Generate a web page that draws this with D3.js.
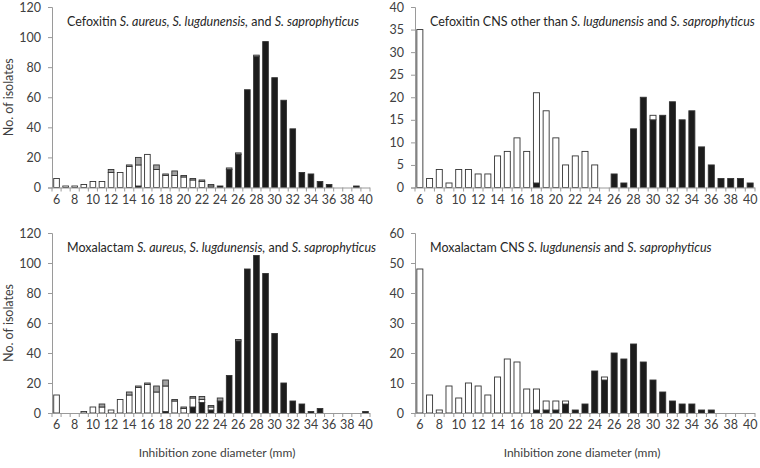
<!DOCTYPE html>
<html><head><meta charset="utf-8">
<script src="https://cdn.jsdelivr.net/npm/d3@7/dist/d3.min.js"></script>
<style>body{margin:0;background:#fff}svg{display:block}</style>
</head><body>
<svg id="chart" width="760" height="468"></svg>
<script>
const categories = [6,7,8,9,10,11,12,13,14,15,16,17,18,19,20,21,22,23,24,25,26,27,28,29,30,31,32,33,34,35,36,37,38,39,40];
const xTickLabels = [6,8,10,12,14,16,18,20,22,24,26,28,30,32,34,36,38,40];

// Panel 1: Cefoxitin S. aureus, S. lugdunensis, S. saprophyticus
const p1Black = [0,0,0,0,0,0,0,0,0,1,0,0,0,0,0,0,0,0,1,12,22,65,87,97,73,58,39,10,9,4,2,0,0,1,0];
const p1White = [6,1,1,2,4,4,10,10,14,14,22,12,8,8,7,5,4,1,0,0,0,0,0,0,0,0,0,0,0,0,0,0,0,0,0];
const p1Grey  = [0,0,0,0,0,0,2,0,1,5,0,3,1,3,1,1,1,1,0,1,1,0,1,0,0,0,0,0,0,0,0,0,0,0,0];
// Panel 2: Cefoxitin CNS other than S. lugdunensis and S. saprophyticus
const p2Black = [0,0,0,0,0,0,0,0,0,0,0,0,1,0,0,0,0,0,0,0,3,1,13,20,15,16,19,15,17,9,5,2,2,2,1];
const p2White = [35,2,4,1,4,4,3,3,7,8,11,8,20,17,11,5,7,8,5,0,0,0,0,0,1,0,0,0,0,0,0,0,0,0,0];
const p2Grey  = [0,0,0,0,0,0,0,0,0,0,0,0,0,0,0,0,0,0,0,0,0,0,0,0,0,0,0,0,0,0,0,0,0,0,0];
// Panel 3: Moxalactam S. aureus, S. lugdunensis, S. saprophyticus
const p3Black = [0,0,0,0,0,0,0,0,0,0,0,0,1,0,0,4,7,2,8,25,48,96,105,93,53,20,8,6,1,3,0,0,0,0,1];
const p3White = [12,0,0,1,4,4,2,9,12,17,19,14,17,8,3,6,2,2,0,0,0,0,0,0,0,0,0,0,0,0,0,0,0,0,0];
const p3Grey  = [0,0,0,0,0,2,0,0,2,1,1,4,4,1,1,1,2,1,2,0,1,0,0,0,0,0,0,0,0,0,0,0,0,0,0];
// Panel 4: Moxalactam CNS S. lugdunensis and S. saprophyticus
const p4Black = [0,0,0,0,0,0,0,0,0,0,0,0,1,1,1,3,1,3,14,11,20,18,23,17,11,7,4,3,3,1,1,0,0,0,0];
const p4White = [48,6,1,9,5,10,9,6,12,18,17,8,7,3,3,1,0,0,0,1,0,0,0,0,0,0,0,0,0,0,0,0,0,0,0];
const p4Grey  = [0,0,0,0,0,0,0,0,0,0,0,0,0,0,0,0,0,0,0,0,0,0,0,0,0,0,0,0,0,0,0,0,0,0,0];

const yTicks1 = [0,20,40,60,80,100,120];
const yTicks2 = [0,5,10,15,20,25,30,35,40];
const yTicks4 = [0,10,20,30,40,50,60];

const titles = [
  [["Cefoxitin ",false],["S. aureus, S. lugdunensis,",true],[" and ",false],["S. saprophyticus",true]],
  [["Cefoxitin CNS other than ",false],["S. lugdunensis",true],[" and ",false],["S. saprophyticus",true]],
  [["Moxalactam ",false],["S. aureus, S. lugdunensis,",true],[" and ",false],["S. saprophyticus",true]],
  [["Moxalactam CNS ",false],["S. lugdunensis",true],[" and ",false],["S. saprophyticus",true]]
];

const keys = ["black","white","grey"];
const colors = {black:"#1c1c1c", white:"#ffffff", grey:"#a3a3a3"};
const FONT = "Lato, 'Open Sans', sans-serif";
const TXT = "#404040";

const panels = [
  {b:p1Black,w:p1White,g:p1Grey,x0:52,x1:370,yb:187.5,yt:7,max:120,ticks:yTicks1,title:titles[0],ytitle:true},
  {b:p2Black,w:p2White,g:p2Grey,x0:415,x1:755,yb:187.5,yt:7,max:40,ticks:yTicks2,title:titles[1],ytitle:false},
  {b:p3Black,w:p3White,g:p3Grey,x0:52,x1:370,yb:413,yt:233,max:120,ticks:yTicks1,title:titles[2],ytitle:true},
  {b:p4Black,w:p4White,g:p4Grey,x0:415,x1:755,yb:413,yt:233,max:60,ticks:yTicks4,title:titles[3],ytitle:false}
];

const svg = d3.select("#chart");

panels.forEach(p => {
  const rows = categories.map((c,i) => ({cat:c, black:p.b[i], white:p.w[i], grey:p.g[i]}));
  const series = d3.stack().keys(keys)(rows);
  const x = d3.scaleBand().domain(categories).range([p.x0,p.x1]).paddingInner(0.38).paddingOuter(0.19);
  const xb = d3.scaleBand().domain(categories).range([p.x0,p.x1]);
  const y = d3.scaleLinear().domain([0,p.max]).range([p.yb,p.yt]);
  const g = svg.append("g");

  // bars
  series.forEach(s => {
    g.append("g").selectAll("rect").data(s.filter(d => d[1] > d[0])).join("rect")
      .attr("x", d => x(d.data.cat))
      .attr("width", x.bandwidth())
      .attr("y", d => y(d[1]))
      .attr("height", d => y(d[0]) - y(d[1]))
      .attr("fill", colors[s.key])
      .attr("stroke", "#333")
      .attr("stroke-width", 0.9);
  });

  // y axis
  const ya = g.append("g").attr("transform", `translate(${p.x0},0)`)
    .call(d3.axisLeft(y).tickValues(p.ticks).tickSize(4).tickPadding(7));
  ya.select(".domain").attr("stroke","#9a9a9a");
  ya.selectAll(".tick line").attr("stroke","#9a9a9a");
  ya.selectAll("text").attr("font-family",FONT).attr("font-size",12.5).attr("fill",TXT);

  // x axis: tick marks at band edges
  const edges = categories.map(c => xb(c)).concat([p.x1]);
  g.append("line").attr("x1",p.x0).attr("x2",p.x1).attr("y1",p.yb+0.5).attr("y2",p.yb+0.5).attr("stroke","#9a9a9a");
  g.append("g").selectAll("line").data(edges).join("line")
    .attr("x1",d=>d).attr("x2",d=>d).attr("y1",p.yb).attr("y2",p.yb+4).attr("stroke","#9a9a9a");
  g.append("g").selectAll("text").data(xTickLabels).join("text")
    .attr("x", d => xb(d) + xb.bandwidth()/2)
    .attr("y", p.yb + 16)
    .attr("text-anchor","middle")
    .attr("font-family",FONT).attr("font-size",12.5).attr("fill",TXT)
    .text(d=>d);

  // title
  const t = g.append("text").attr("x", p.x0 + 15).attr("y", p.yt + 19)
    .attr("font-family",FONT).attr("font-size",12.5).attr("fill","#262626");
  p.title.forEach(([s,it]) => t.append("tspan").attr("font-style", it ? "italic" : "normal").text(s));

  if (p.ytitle) {
    g.append("text").attr("transform", `translate(13,${(p.yb+p.yt)/2}) rotate(-90)`)
      .attr("text-anchor","middle").attr("font-family",FONT).attr("font-size",12.5).attr("fill",TXT)
      .text("No. of isolates");
  }
});

[217, 582].forEach(cx => {
  svg.append("text").attr("x",cx).attr("y",457).attr("text-anchor","middle")
    .attr("font-family",FONT).attr("font-size",12).attr("fill",TXT)
    .text("Inhibition zone diameter (mm)");
});
</script>
</body></html>
